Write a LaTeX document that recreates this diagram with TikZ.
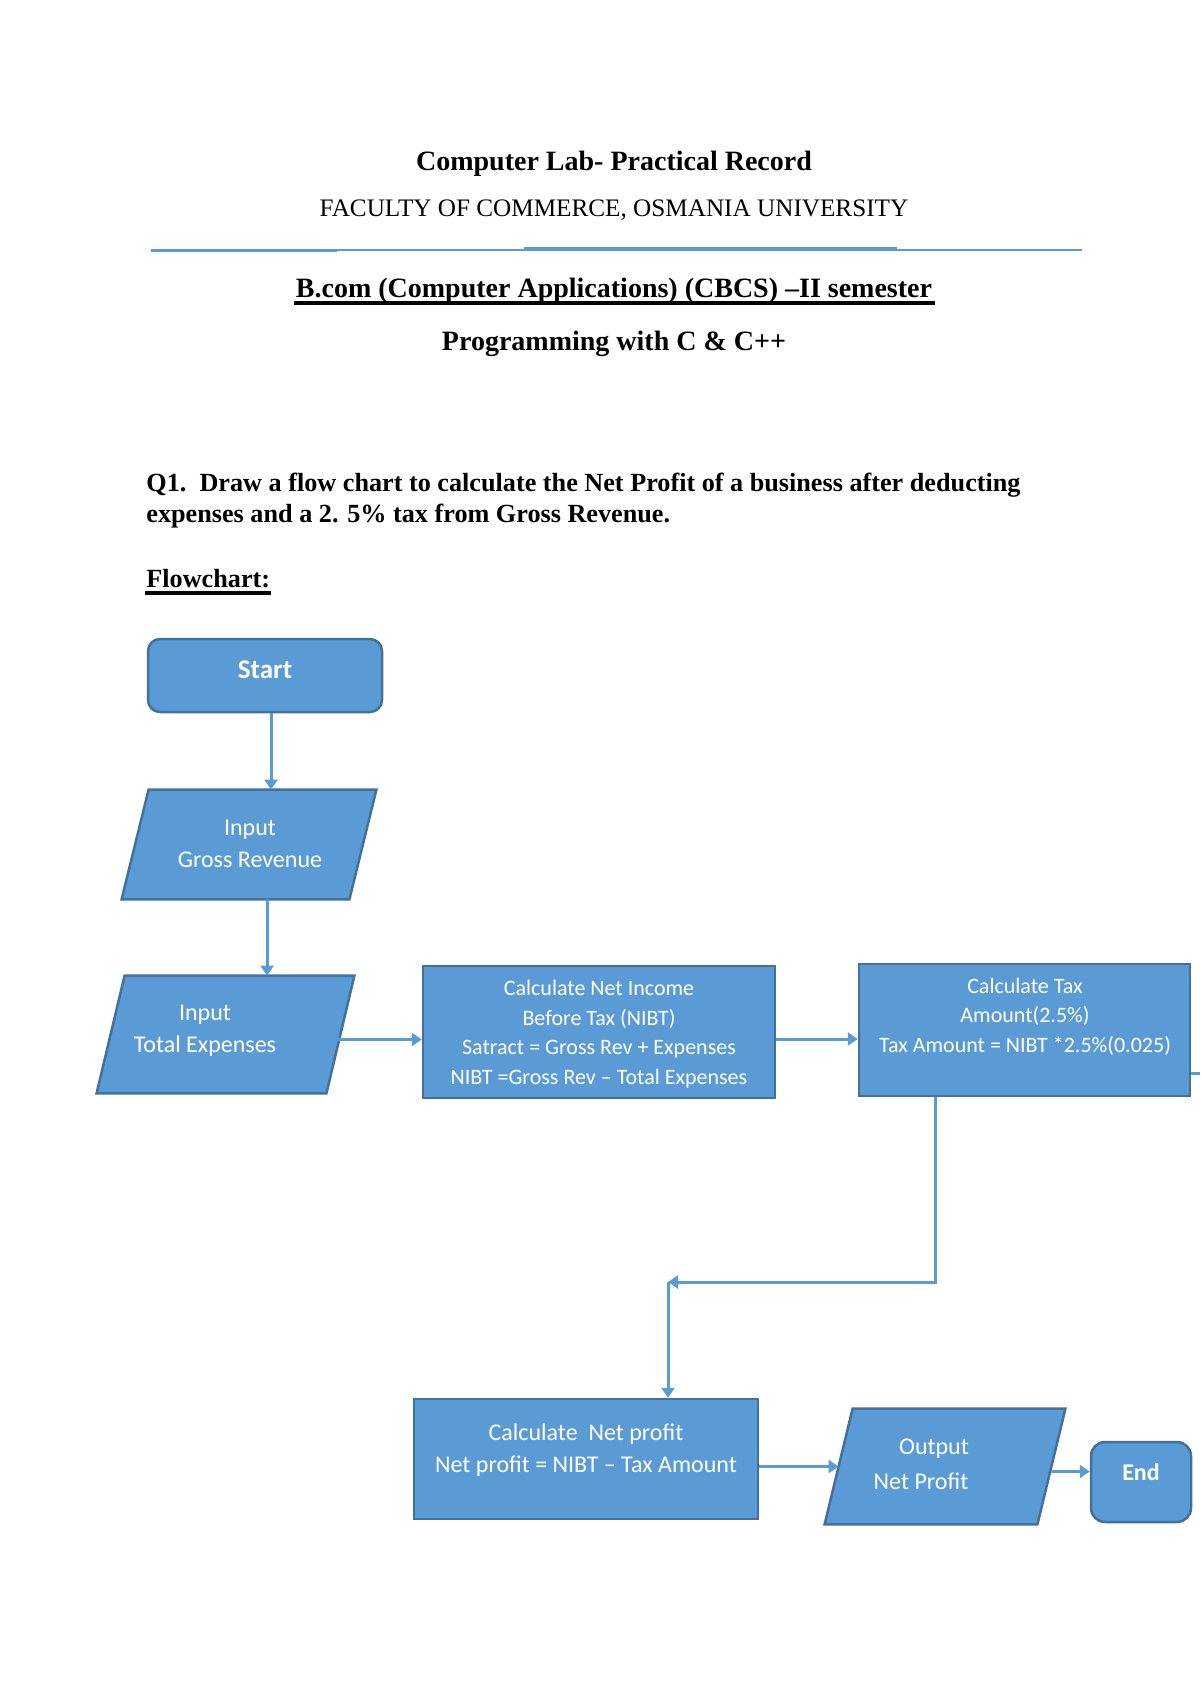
\documentclass[tikz,border=0pt]{standalone}
\usepackage{fontspec}
\setmainfont{Liberation Serif}
\newfontfamily\cfont{Carlito}
\usetikzlibrary{arrows.meta,calc}
\definecolor{fillb}{HTML}{5B9BD5}
\definecolor{edgeb}{HTML}{41719C}
\definecolor{lineb}{HTML}{5B9BD5}
\begin{document}
\begin{tikzpicture}[x=0.5pt,y=-0.5pt,
  box/.style={draw=edgeb, fill=fillb, line width=1.25pt, inner sep=0pt},
  holder/.style={draw=none, inner sep=0pt},
  shp/.style={draw=edgeb, fill=fillb, line width=1.25pt, line join=miter},
  arr/.style={draw=lineb, line width=1.5pt, -{Triangle[length=5pt,width=6.5pt]}},
  conn/.style={draw=lineb, line width=1.5pt},
  txt/.style={text=white, align=center, inner sep=0pt, font=\cfont\fontsize{12}{16}\selectfont},
  stxt/.style={text=white, align=center, inner sep=0pt, font=\cfont\fontsize{11}{14.75}\selectfont},
  btxt/.style={text=white, align=center, inner sep=0pt, font=\cfont\bfseries\fontsize{13.5}{16}\selectfont},
  headb/.style={anchor=base, inner sep=0pt, font=\bfseries\fontsize{14}{16}\selectfont},
  headr/.style={anchor=base, inner sep=0pt, font=\fontsize{12.6}{15}\selectfont},
  qtxt/.style={anchor=base west, inner sep=0pt, font=\bfseries\fontsize{13.1}{16}\selectfont},
  uline/.style={draw=black, line width=2pt},
  hline/.style={draw=lineb, line width=1pt}
]
\useasboundingbox (0,0) rectangle (1200,1696);

% ---------- header ----------
\node[headb] (title) at (614,171) {Computer Lab- Practical Record};
\node[headr] (fac) at (614,217) {FACULTY OF COMMERCE, OSMANIA UNIVERSITY};
\draw[hline] (151,250) -- (1082,250);
\draw[draw=lineb, line width=1.5pt] (151,251) -- (337,251);
\draw[draw=lineb, line width=1.5pt] (524,249) -- (897,249);
\node[headb] (bcom) at (614,298) {B.com (Computer Applications) (CBCS) –II semester};
\draw[uline] (294,303) -- (935,303);
\node[headb] (prog) at (614,350) {Programming with C \& C++};

\node[qtxt] (q1a) at (146,491) {Q1.\ \ Draw a flow chart to calculate the Net Profit of a business after deducting};
\node[qtxt] (q1b) at (146,522) {expenses and a 2. 5\% tax from Gross Revenue.};
\node[qtxt] (fch) at (146,587) {Flowchart:};
\draw[uline] (145,593) -- (271,593);

% ---------- shapes ----------
\node[box, rounded corners=6pt, minimum width=117pt, minimum height=36.5pt] (start) at (265,675.5) {};
\node[holder, minimum width=127pt, minimum height=54.5pt] (gr) at (249,844.5) {};
\node[holder, minimum width=128.5pt, minimum height=58.5pt] (te) at (225.5,1034.5) {};
\node[box, minimum width=176pt, minimum height=66pt] (nibt) at (599,1032) {};
\node[box, minimum width=165.5pt, minimum height=66pt] (tax) at (1024.5,1030) {};
\node[box, minimum width=172pt, minimum height=60pt] (np) at (586,1459) {};
\node[holder, minimum width=120pt, minimum height=57.5pt] (out) at (945,1466.5) {};
\node[box, rounded corners=7pt, minimum width=50pt, minimum height=40pt] (end) at (1141,1482) {};

\path[shp] ([xshift=13.5pt]gr.north west) -- (gr.north east) -- ([xshift=-13.5pt]gr.south east) -- (gr.south west) -- cycle;
\path[shp] ([xshift=14pt]te.north west) -- (te.north east) -- ([xshift=-14pt]te.south east) -- (te.south west) -- cycle;
\path[shp] ([xshift=14pt]out.north west) -- (out.north east) -- ([xshift=-14pt]out.south east) -- (out.south west) -- cycle;

% ---------- texts ----------
\node[btxt] (startt) at (265,670) {Start};
\node[txt] (grt) at (250,844) {Input\\Gross Revenue};
\node[txt] (tet) at (205,1031) {Input\\Total Expenses};
\node[stxt] (nibtt) at (599,1034) {Calculate Net Income\\Before Tax (NIBT)\\Satract = Gross Rev + Expenses\\NIBT =Gross Rev – Total Expenses};
\node[stxt] (taxt) at (1025,1016.5) {Calculate Tax\\Amount(2.5\%)\\Tax Amount = NIBT *2.5\%(0.025)};
\node[txt] (npt) at (586,1450.5) {Calculate\ \ Net profit\\Net profit = NIBT – Tax Amount};
\node[txt] (outa) at (934,1449) {Output};
\node[txt] (outb) at (921,1481) {Net Profit};
\node[txt, font=\cfont\bfseries\fontsize{12}{16}\selectfont] (endt) at (1141,1472) {End};

% ---------- connectors ----------
\draw[arr] ([xshift=3pt]start.south) -- ([xshift=3pt]start.south |- gr.north);
\draw[arr] ([xshift=9pt]gr.south) -- ([xshift=9pt]gr.south |- te.north);
\draw[arr] ($(te.east)+(-16,5)$) -- ($(te.east -| nibt.west)+(0,5)$);
\draw[arr] ($(nibt.east)+(0,7)$) -- ($(nibt.east -| tax.west)+(0,7)$);
\coordinate (j) at (668,1282);
\draw[arr] ($(tax.south west)!0.233!(tax.south east)$) |- (j);
\draw[arr] (j) -- (j |- np.north);
\draw[arr] (np.east |- out.center) -- ($(out.west)+(14,0)$);
\draw[arr] ($(out.east)+(-14,5)$) -- ($(out.east -| end.west)+(0,5)$);
\coordinate (offr) at (1200,1073);
\draw[conn] (tax.east |- offr) -- (offr);
\end{tikzpicture}
\end{document}
